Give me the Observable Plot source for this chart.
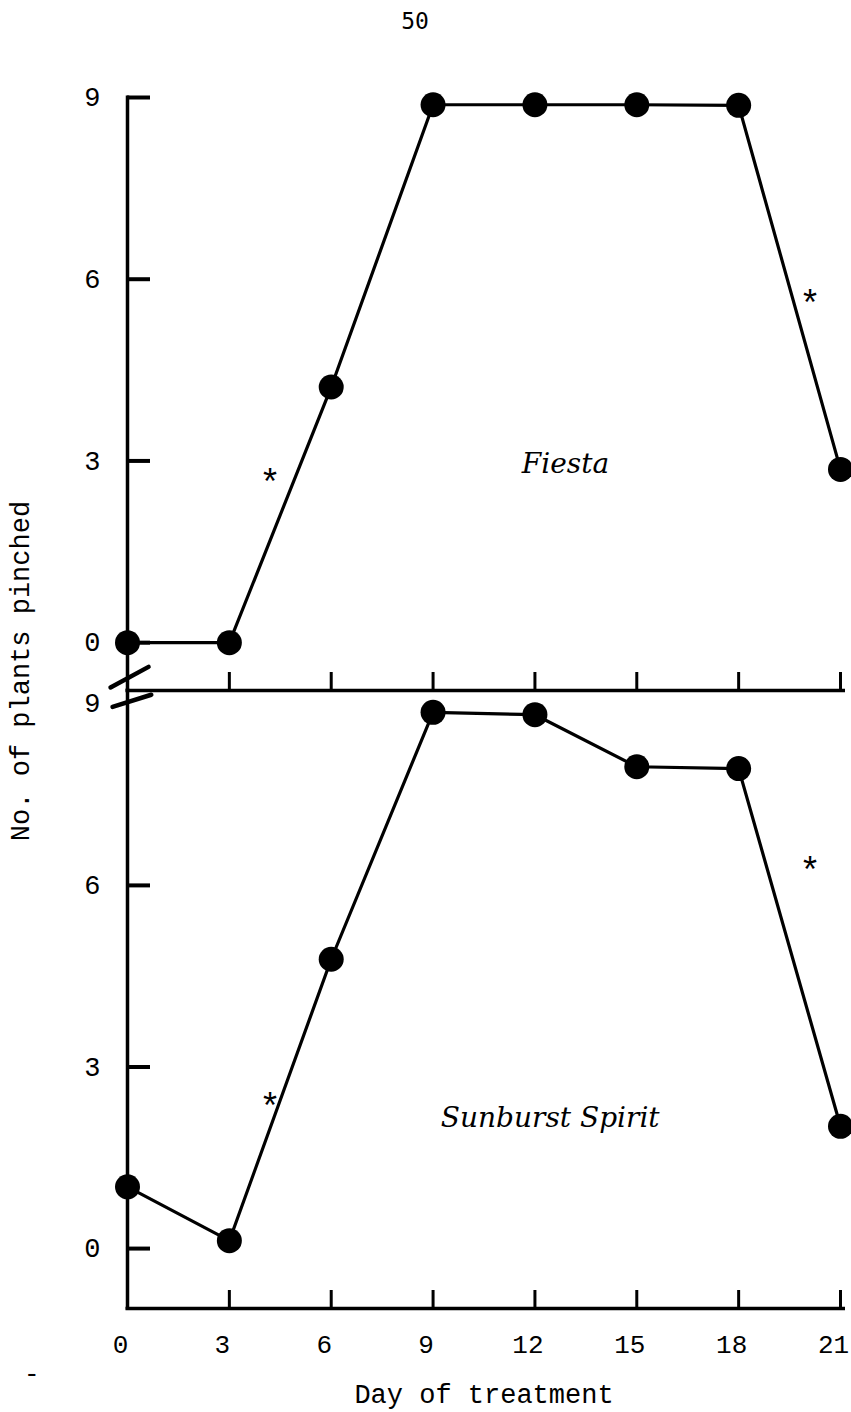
<!DOCTYPE html>
<html><head><meta charset="utf-8">
<script src="https://cdn.jsdelivr.net/npm/d3@7"></script>
<script src="https://cdn.jsdelivr.net/npm/@observablehq/plot@0.6"></script>
<style>
html,body{margin:0;padding:0;background:#fff;}
#page{position:relative;width:851px;height:1412px;overflow:hidden;background:#fff;}
.abs{position:absolute;}
#ylab{left:22px;top:671px;transform:translate(-50%,-50%) rotate(-90deg);white-space:nowrap;font-family:"Liberation Mono",monospace;font-size:27px;line-height:1;color:#000;}
#pagenum{left:0;width:830px;top:8px;text-align:center;font-family:"DejaVu Sans Mono",monospace;font-size:23px;color:#000;}
#dash{left:24px;top:1360px;font-family:"Liberation Mono",monospace;font-size:26px;color:#000;}
</style></head><body>
<div id="page">
  <div id="top" class="abs" style="left:0;top:0"></div>
  <div id="bottom" class="abs" style="left:0;top:680px"></div>
  <div id="pagenum" class="abs">50</div>
  <div id="ylab" class="abs">No. of plants pinched</div>
  <div id="dash" class="abs">-</div>
</div>
<script>
// ---- data ----
const days = [0, 3, 6, 9, 12, 15, 18, 21];
const fiesta = [0, 0, 4.22, 8.88, 8.88, 8.88, 8.87, 2.86];
const sunburst = [1.02, 0.13, 4.78, 8.86, 8.82, 7.96, 7.93, 2.02];
const xTicks = [0, 3, 6, 9, 12, 15, 18, 21];
const yTicks = [0, 3, 6, 9];
const fiestaStarDays = [4.2, 20.1];
const fiestaStarValues = [2.8, 5.75];
const sunburstStarDays = [4.2, 20.1];
const sunburstStarValues = [2.5, 6.4];
const cultivars = ["Fiesta", "Sunburst Spirit"];
const cultivarDays = [12.9, 12.45];
const cultivarValues = [2.95, 2.15];
const breakX1 = [-0.5, -0.44];
const breakY1 = [-0.74, -1.06];
const breakX2 = [0.62, 0.7];
const breakY2 = [-0.4, -0.86];
const xLabel = "Day of treatment";

function panel({values, starDays, starValues, name, nameDay, nameValue, yDomain, height, marginTop, marginBottom, showX, yTickMarks, breaks}) {
  const rows = days.map((d, i) => ({day: d, value: values[i]}));
  const stars = starDays.map((d, i) => ({day: d, value: starValues[i]}));
  const innerH = height - marginTop - marginBottom;
  const yPerPx = (yDomain[1] - yDomain[0]) / innerH;
  const xPerPx = 21 / (851 - 127 - 11);
  const marks = [
    Plot.ruleX([0], {strokeWidth: 3.5, insetTop: -1.5, insetBottom: -1.5}),
    Plot.ruleY([yDomain[0]], {strokeWidth: 3.5, insetLeft: -1.5, insetRight: -5}),
    Plot.ruleX(xTicks.filter(d => d > 0), {x: d => d, y1: yDomain[0], y2: yDomain[0] + 18 * yPerPx, strokeWidth: 3}),
    Plot.ruleY(yTickMarks, {y: d => d, x1: 0, x2: 23 * xPerPx, strokeWidth: 4}),
    Plot.line(rows, {x: "day", y: "value", strokeWidth: 3.2, stroke: "black"}),
    Plot.dot(rows, {x: "day", y: "value", r: 12.5, fill: "black", stroke: "none"}),
    Plot.text(stars, {x: "day", y: "value", text: () => "*", fontSize: 36, dy: 10, fontFamily: "Liberation Mono"}),
    Plot.text([{day: nameDay, value: nameValue, t: name}], {x: "day", y: "value", text: "t", fontFamily: "DejaVu Serif", fontStyle: "italic", fontSize: 28})
  ];
  if (breaks) {
    const b = breakX1.map((d, i) => ({x1: d, y1: breakY1[i], x2: breakX2[i], y2: breakY2[i]}));
    marks.push(Plot.link(b, {x1: "x1", y1: "y1", x2: "x2", y2: "y2", strokeWidth: 4.5, stroke: "black", strokeLinecap: "round"}));
  }
  const useAxisMark = showX && typeof Plot.axisX === "function";
  if (useAxisMark) {
    marks.push(Plot.axisX({ticks: xTicks, tickSize: 0, tickPadding: 26, dx: -7, fontSize: 26, label: null}));
    marks.push(Plot.axisX({ticks: [], label: xLabel, labelAnchor: "center", labelOffset: 94, labelArrow: "none", tickSize: 0}));
  }
  return Plot.plot({
    width: 851, height, marginLeft: 127, marginRight: 11, marginTop, marginBottom,
    style: {background: "transparent", fontFamily: "Liberation Mono, monospace", fontSize: "27px", color: "black", overflow: "visible"},
    x: {domain: [0, 21], ticks: xTicks, tickSize: 0, tickPadding: 26, axis: (showX && !useAxisMark) ? "bottom" : null,
        label: showX ? xLabel : null, labelAnchor: "center", labelOffset: 94, labelArrow: "none"},
    y: {domain: yDomain, ticks: yTicks, tickSize: 0, tickPadding: 27, label: null, labelArrow: "none"},
    marks
  });
}

document.getElementById("top").appendChild(panel({
  values: fiesta, starDays: fiestaStarDays, starValues: fiestaStarValues,
  name: cultivars[0], nameDay: cultivarDays[0], nameValue: cultivarValues[0],
  yDomain: [-0.79, 9], height: 712, marginTop: 97, marginBottom: 22, showX: false,
  yTickMarks: [0, 3, 6, 9], breaks: true
}));
document.getElementById("bottom").appendChild(panel({
  values: sunburst, starDays: sunburstStarDays, starValues: sunburstStarValues,
  name: cultivars[1], nameDay: cultivarDays[1], nameValue: cultivarValues[1],
  yDomain: [-0.99, 9.22], height: 732, marginTop: 10, marginBottom: 104, showX: true,
  yTickMarks: [0, 3, 6], breaks: false
}));
</script>
</body></html>
